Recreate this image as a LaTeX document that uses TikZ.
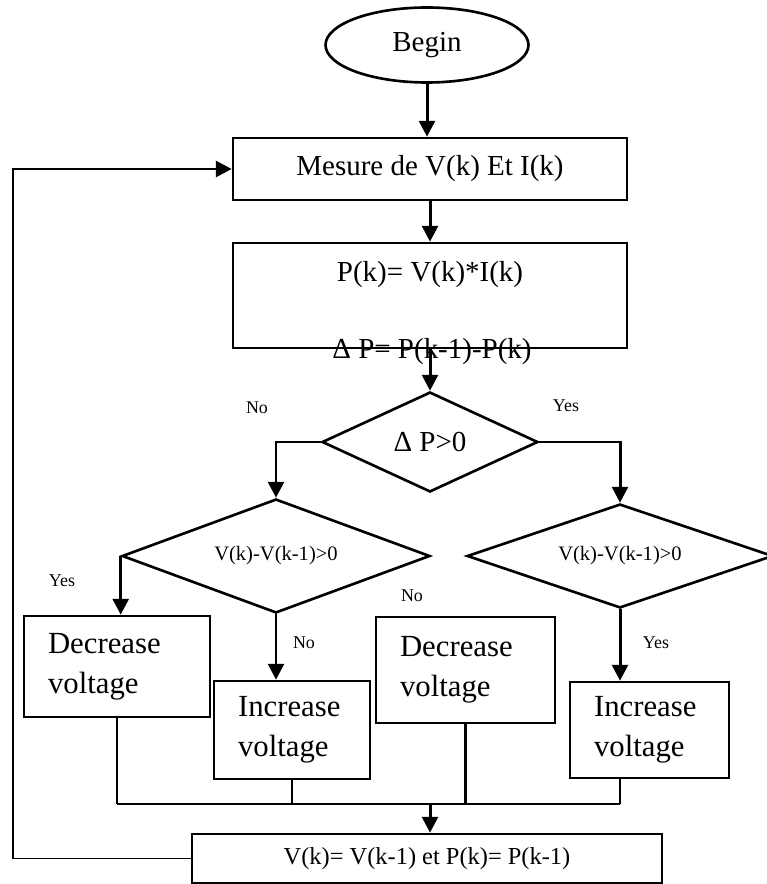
\documentclass[tikz,border=0pt]{standalone}
\usepackage{fontspec}
\setmainfont{Liberation Serif}
\usetikzlibrary{arrows.meta, shapes.geometric, positioning, calc}

\begin{document}
\begin{tikzpicture}[x=0.02cm, y=-0.02cm,
    box/.style={draw, line width=1.5pt, inner sep=0pt},
    cond/.style={draw, diamond, line width=1.5pt, inner sep=0pt, font=\fontsize{11.7}{14}\selectfont},
    act/.style={box, align=left, inner xsep=0.48cm, font=\fontsize{17.5}{23}\selectfont},
    arr/.style={line width=1.7pt, -{Triangle[width=9pt, length=9pt]}},
    bus/.style={line width=1.3pt},
    lbl/.style={font=\fontsize{10.2}{12}\selectfont},
    big/.style={font=\fontsize{16.5}{20}\selectfont}]
  \useasboundingbox (0,0) rectangle (766,884);

  % main column
  \node[box, ellipse, big, minimum width=4.06cm, minimum height=1.5cm] (begin) at (427,45) {Begin};
  \node[box, big, minimum width=7.88cm, minimum height=1.24cm] (mes) at (430,169) {Mesure de V(k) Et I(k)};
  \node[box, minimum width=7.88cm, minimum height=2.1cm] (pbox) at (430,295.5) {};
  \node[big] (pk) at (430,275) {P(k)= V(k)*I(k)};
  \node[big] (dpt) at (432,352) {Δ P= P(k-1)-P(k)};
  \node[cond, big, shape aspect=2.16, minimum width=4.32cm, minimum height=2cm] (dp) at (430,442) {Δ P>0};

  % second tests
  \node[cond, shape aspect=2.7, minimum width=6.16cm, minimum height=2.28cm] (ld) at (276,556) {V(k)-V(k-1)>0};
  \node[cond, shape aspect=2.94, minimum width=6.12cm, minimum height=2.08cm] (rd) at (620,556) {V(k)-V(k-1)>0};

  % actions
  \node[act, text width=2.76cm, minimum height=2.02cm] (dec1) at (117,666.5) {Decrease\\voltage};
  \node[act, text width=2.16cm, minimum height=1.96cm] (inc1) at (292,730) {Increase\\voltage};
  \node[act, text width=2.62cm, minimum height=2.12cm] (dec2) at (465.5,670) {Decrease\\voltage};
  \node[act, text width=2.22cm, minimum height=1.92cm] (inc2) at (649.5,730) {Increase\\voltage};
  \node[box, minimum width=9.4cm, minimum height=0.98cm, font=\fontsize{13.9}{16}\selectfont] (fin) at (427,858.5) {V(k)= V(k-1) et P(k)= P(k-1)};

  % labels
  \node[lbl] (no1) at (257,408) {No};
  \node[lbl] (yes1) at (566,406) {Yes};
  \node[lbl] (yes2) at (62,581) {Yes};
  \node[lbl] (no2) at (304,643) {No};
  \node[lbl] (no3) at (412,596) {No};
  \node[lbl] (yes3) at (656,643) {Yes};

  \coordinate (jn) at (430,804);
  \coordinate (back) at (13,0);

  % arrows
  \draw[arr] (begin.south) -- (begin.south |- mes.north);
  \draw[arr] (mes.south) -- (pbox.north);
  \draw[arr] (pbox.south) -- (dp.north);
  \draw[arr] (dp.west) -| (ld.north);
  \draw[arr] (dp.east) -| (rd.north);
  \draw[arr] (ld.west) -- (ld.west |- dec1.north);
  \draw[arr] (ld.south) -- (ld.south |- inc1.north);
  \draw[arr] (rd.south) -- (rd.south |- inc2.north);

  % collecting lines
  \foreach \n in {dec1, inc1, dec2}
    \draw[bus] (\n.south) -- (\n.south |- jn);
  \draw[bus] (rd.south |- inc2.south) -- (rd.south |- jn);
  \draw[bus] (dec1.south |- jn) -- (rd.south |- jn);
  \draw[arr] (jn) -- (jn |- fin.north);

  % loop back
  \draw[line width=1pt] (fin.west) -- (fin.west -| back) -- (back |- dp.west);
  \draw[arr] (back |- dp.west) |- (mes.west);
\end{tikzpicture}
\end{document}
